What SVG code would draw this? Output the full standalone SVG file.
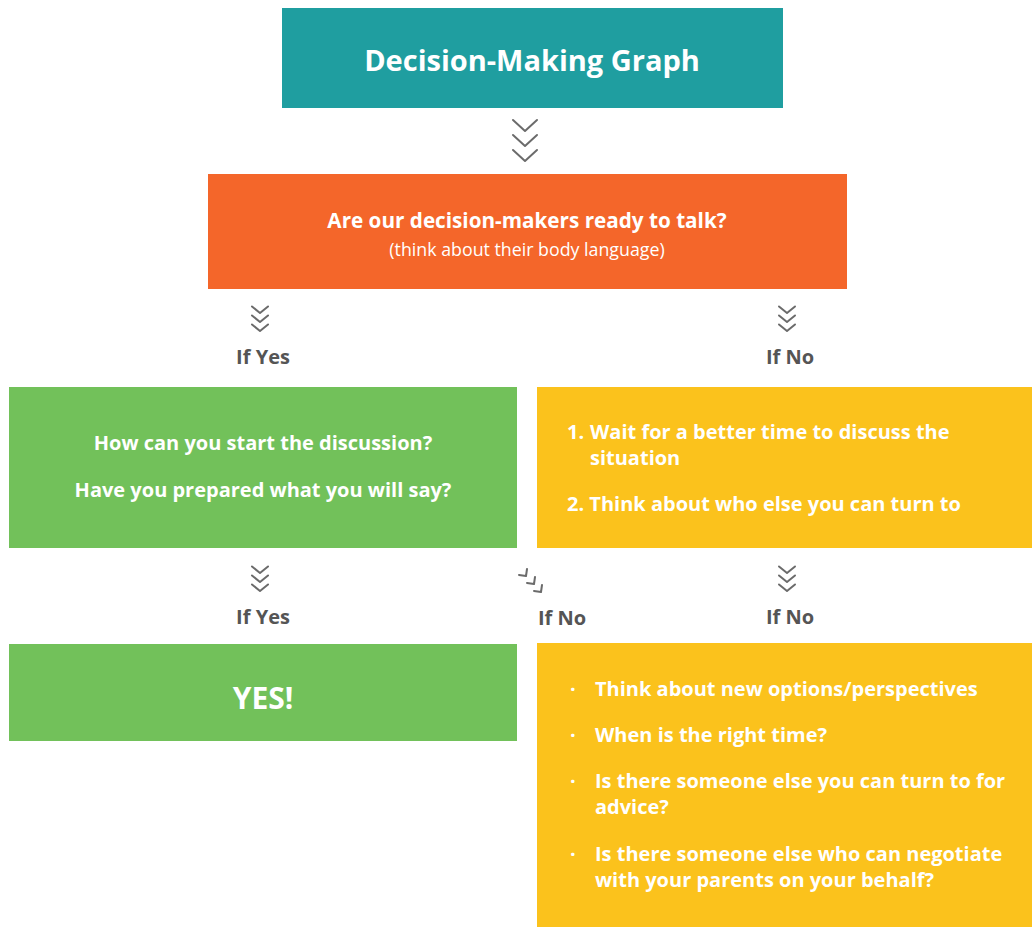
<svg xmlns="http://www.w3.org/2000/svg" width="1032" height="927" viewBox="0 0 1032 927">
<defs>
<style>
.t{font-family:"Open Sans","Liberation Sans",sans-serif;fill:#fff;font-weight:700}
.lbl{font-family:"Open Sans","Liberation Sans",sans-serif;fill:#555;font-weight:700;font-size:20px;text-anchor:middle}
.ch{fill:none;stroke:#6b6b6b;stroke-width:2;stroke-linecap:round;stroke-linejoin:round}
</style>
<path id="big" d="M -12 -5 L 0 6 L 12 -5"/>
<path id="sm" d="M -8 -3.5 L 0 3 L 8 -3.5"/>
<path id="dg" d="M -7 -1 L 0 0 L 1 -7"/>
</defs>
<rect width="1032" height="927" fill="#fff"/>
<g id="title"><rect x="282" y="8" width="501" height="100" fill="#1f9ea0"/><text class="t" x="532" y="71" font-size="29" text-anchor="middle">Decision-Making Graph</text></g>
<g id="question"><rect x="208" y="174" width="639" height="115" fill="#f4662a"/><text class="t" x="527" y="228" font-size="20.7" text-anchor="middle">Are our decision-makers ready to talk?</text><text class="t" x="527" y="256" font-size="17.8" text-anchor="middle" style="font-weight:400">(think about their body language)</text></g>
<g id="start"><rect x="9" y="387" width="508" height="161" fill="#72c15a"/><text class="t" x="263" y="450" font-size="20" text-anchor="middle">How can you start the discussion?</text><text class="t" x="263" y="497" font-size="20" text-anchor="middle">Have you prepared what you will say?</text></g>
<g id="wait"><rect x="537" y="387" width="495" height="161" fill="#fbc21c"/><text class="t" font-size="20"><tspan x="567" y="439">1.</tspan><tspan x="590" y="439">Wait for a better time to discuss the</tspan><tspan x="590" y="465">situation</tspan><tspan x="567" y="511">2. Think about who else you can turn to</tspan></text></g>
<g id="yes"><rect x="9" y="644" width="508" height="97" fill="#72c15a"/><text class="t" x="263" y="709" font-size="30" text-anchor="middle">YES!</text></g>
<g id="options"><rect x="537" y="643" width="495" height="284" fill="#fbc21c"/><text class="t" font-size="20"><tspan x="570" y="696">·</tspan><tspan x="595" y="696">Think about new options/perspectives</tspan><tspan x="570" y="742">·</tspan><tspan x="595" y="742">When is the right time?</tspan><tspan x="570" y="788">·</tspan><tspan x="595" y="788">Is there someone else you can turn to for</tspan><tspan x="595" y="814">advice?</tspan><tspan x="570" y="861">·</tspan><tspan x="595" y="861">Is there someone else who can negotiate</tspan><tspan x="595" y="887">with your parents on your behalf?</tspan></text></g>
<g id="connectors">
<g class="ch"><use href="#big" x="525" y="125"/><use href="#big" x="525" y="140"/><use href="#big" x="525" y="155"/>
<use href="#sm" x="260" y="310"/><use href="#sm" x="260" y="319"/><use href="#sm" x="260" y="328"/>
<use href="#sm" x="787" y="310"/><use href="#sm" x="787" y="319"/><use href="#sm" x="787" y="328"/>
<use href="#sm" x="260" y="570"/><use href="#sm" x="260" y="579"/><use href="#sm" x="260" y="588"/>
<use href="#sm" x="787" y="570"/><use href="#sm" x="787" y="579"/><use href="#sm" x="787" y="588"/>
<use href="#dg" x="526" y="576"/><use href="#dg" x="534" y="584"/><use href="#dg" x="541" y="592"/></g>
<text class="lbl" x="263" y="364">If Yes</text><text class="lbl" x="790" y="364">If No</text>
<text class="lbl" x="263" y="624">If Yes</text><text class="lbl" x="562" y="625">If No</text><text class="lbl" x="790" y="624">If No</text>
</g>
</svg>
